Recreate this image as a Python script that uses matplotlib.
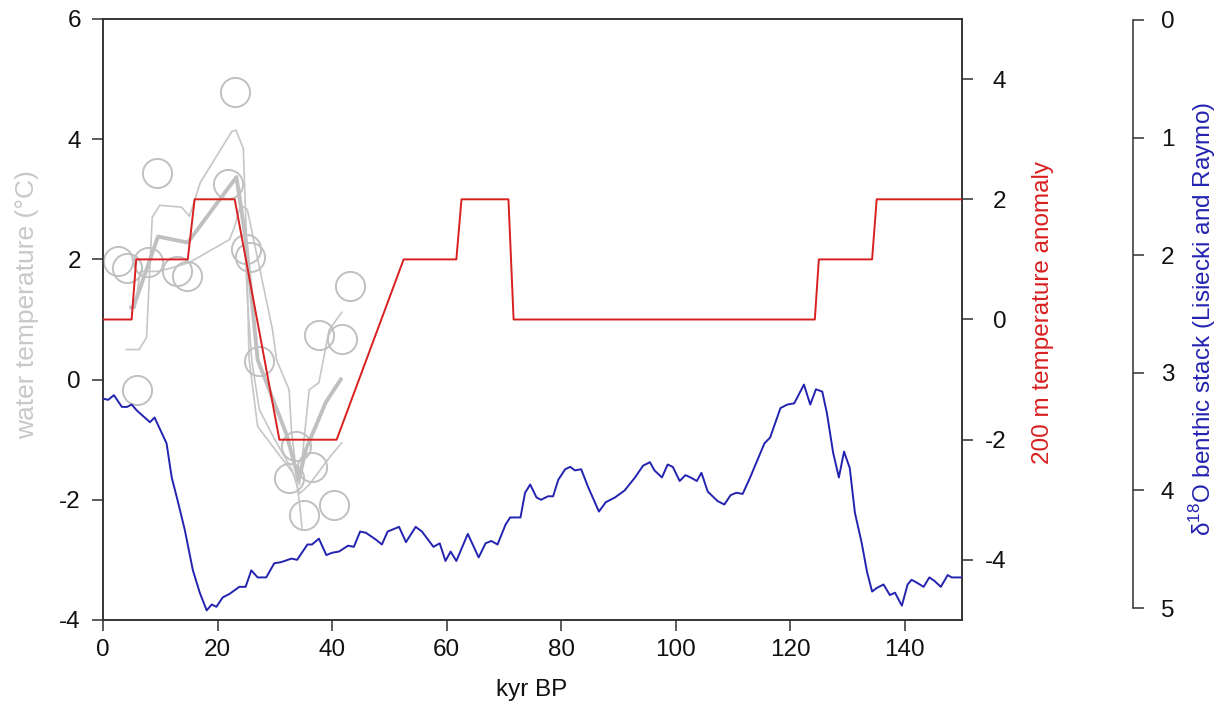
import matplotlib
matplotlib.use("Agg")
import matplotlib.pyplot as plt

plt.rcParams['font.family'] = ['Liberation Sans', 'DejaVu Sans']
plt.rcParams['mathtext.fontset'] = 'custom'
plt.rcParams['mathtext.rm'] = 'Liberation Sans'
plt.rcParams['axes.unicode_minus'] = False

# ---------------- data ----------------
# gray proxy records: individual circles (kyr BP, water temperature degC)
circle_kyr = [2.6, 4.2, 6.0, 7.8, 9.4, 12.9, 14.6, 21.9, 23.1, 24.9, 25.7, 27.3,
              32.5, 33.7, 35.1, 36.5, 37.7, 40.3, 41.7, 43.1]
circle_temp = [1.97, 1.86, -0.18, 1.95, 3.44, 1.81, 1.72, 3.25, 4.78, 2.17, 2.04, 0.31,
               -1.63, -1.11, -2.25, -1.45, 0.74, -2.08, 0.67, 1.55]

# thin gray record lines
lineA_kyr = [4.1, 6.3, 7.6, 8.6, 9.9, 13.7, 15.1, 17.0, 22.5, 23.2, 24.5, 25.0, 25.5, 27.0, 33.7, 34.3, 34.8]
lineA_temp = [0.5, 0.5, 0.7, 2.7, 2.9, 2.87, 2.72, 3.28, 4.13, 4.15, 3.85, 2.5, 0.35, -0.78, -1.62, -2.05, -2.5]
lineB_kyr = [5.6, 6.5, 9.6, 12.8, 15.1, 22.1, 23.0, 24.0, 25.2, 29.6, 30.3, 32.5, 32.9, 33.7, 34.3,
             36.0, 37.7, 39.5, 41.7]
lineB_temp = [1.2, 1.8, 1.8, 1.88, 1.95, 2.33, 2.55, 2.9, 2.83, 0.83, 0.33, -0.17, -0.83, -1.5, -1.75,
              -0.17, -0.05, 0.83, 1.12]
lineC_kyr = [23.8, 24.6, 25.3, 26.0, 27.3, 30.0, 33.0, 34.3, 36.0, 39.5, 41.7]
lineC_temp = [3.2, 2.6, 1.2, 0.3, -0.5, -1.0, -1.5, -1.9, -1.75, -1.3, -1.05]

# thick gray mean line
mean_kyr = [4.6, 5.3, 9.6, 14.8, 23.3, 25.0, 27.0, 32.0, 34.2, 35.4, 38.9, 41.7]
mean_temp = [1.2, 1.2, 2.38, 2.28, 3.37, 2.28, 0.33, -0.9, -1.67, -1.17, -0.38, 0.03]

# red: 200 m temperature anomaly
anom_kyr = [0, 5.0, 5.8, 14.8, 16.0, 23.0, 30.8, 40.8, 52.5, 61.7, 62.6, 70.8, 71.7,
            124.3, 125.0, 134.3, 135.1, 150]
anom_val = [0, 0, 1, 1, 2, 2, -2, -2, 1, 1, 2, 2, 0, 0, 1, 1, 2, 2]

# blue: d18O benthic stack (Lisiecki and Raymo)
lr_kyr = [0.0, 0.9, 1.9, 3.3, 4.2, 5.0, 5.9, 8.2, 9.0, 11.1,
          12.0, 13.0, 14.3, 15.7, 16.9, 18.1, 19.0, 19.8, 20.9, 22.1,
          23.8, 24.9, 25.9, 27.0, 28.5, 29.9, 31.1, 32.9, 33.9, 35.7,
          36.5, 37.7, 39.0, 40.0, 41.2, 42.8, 43.8, 44.9, 45.9, 47.7,
          48.7, 49.7, 51.7, 52.9, 54.6, 55.7, 57.7, 58.8, 59.8, 60.7,
          61.7, 63.7, 65.6, 66.8, 67.8, 68.9, 70.3, 71.1, 72.9, 73.7,
          74.6, 75.7, 76.5, 77.7, 78.6, 79.5, 80.7, 81.6, 82.4, 83.5,
          84.7, 86.6, 87.8, 89.4, 91.1, 92.9, 94.3, 95.5, 96.3, 97.6,
          98.6, 99.5, 100.7, 101.7, 102.6, 103.7, 104.5, 105.6, 107.3, 108.5,
          109.6, 110.6, 111.7, 113.0, 115.5, 116.5, 118.3, 119.5, 120.7, 122.4,
          123.5, 124.5, 125.6, 126.4, 127.5, 128.5, 129.4, 130.4, 131.3, 132.5,
          133.4, 134.3, 135.1, 136.3, 137.4, 138.3, 139.5, 140.5, 141.2, 142.3,
          143.3, 144.3, 145.2, 146.3, 147.5, 148.2, 150.0]
lr_d18o = [3.22, 3.23, 3.19, 3.29, 3.29, 3.27, 3.32, 3.42, 3.38, 3.60,
           3.89, 4.08, 4.34, 4.68, 4.87, 5.02, 4.97, 4.99, 4.91, 4.88,
           4.82, 4.82, 4.68, 4.74, 4.74, 4.62, 4.61, 4.58, 4.59, 4.46,
           4.46, 4.41, 4.55, 4.53, 4.52, 4.47, 4.48, 4.35, 4.36, 4.42,
           4.46, 4.35, 4.31, 4.44, 4.31, 4.35, 4.48, 4.45, 4.60, 4.52,
           4.60, 4.37, 4.57, 4.45, 4.43, 4.46, 4.29, 4.23, 4.23, 4.02,
           3.95, 4.06, 4.08, 4.05, 4.05, 3.91, 3.82, 3.80, 3.83, 3.82,
           3.97, 4.18, 4.10, 4.06, 4.00, 3.89, 3.79, 3.76, 3.83, 3.89,
           3.78, 3.80, 3.92, 3.87, 3.89, 3.92, 3.85, 4.01, 4.09, 4.12,
           4.04, 4.02, 4.03, 3.89, 3.60, 3.55, 3.30, 3.27, 3.26, 3.10,
           3.27, 3.14, 3.16, 3.34, 3.68, 3.89, 3.67, 3.81, 4.19, 4.45,
           4.69, 4.86, 4.83, 4.80, 4.89, 4.87, 4.98, 4.80, 4.76, 4.79,
           4.82, 4.74, 4.77, 4.82, 4.72, 4.74, 4.74]

x_ticks = [0, 20, 40, 60, 80, 100, 120, 140]
temp_ticks = [-4, -2, 0, 2, 4, 6]
anom_ticks = [-4, -2, 0, 2, 4]
d18o_ticks = [0, 1, 2, 3, 4, 5]

# ---------------- figure ----------------
W, H = 1226, 723
fig = plt.figure(figsize=(W / 100, H / 100), dpi=100)
L, R, T, B = 103, 962, 19, 620
ax = fig.add_axes([L / W, 1 - B / H, (R - L) / W, (B - T) / H])

FS = 17.5
spine_col = '#303030'
gray_line = '#c6c6c6'
gray_circ = '#c0c0c0'
red = '#d82020'
blue = '#2323b0'

# gray records
ax.plot(lineA_kyr, lineA_temp, color=gray_line, lw=1.2, zorder=2)
ax.plot(lineB_kyr, lineB_temp, color=gray_line, lw=1.2, zorder=2)
ax.plot(lineC_kyr, lineC_temp, color=gray_line, lw=1.2, zorder=2)
ax.plot(mean_kyr, mean_temp, color=gray_circ, lw=2.8, zorder=2, solid_capstyle='butt')
ax.plot(circle_kyr, circle_temp, ls='none', marker='o', ms=21, mfc='none',
        mec=gray_circ, mew=1.4, zorder=3)

ax.set_xlim(0, 150)
ax.set_ylim(-4, 6)
ax.set_xticks(x_ticks)
ax.set_yticks(temp_ticks)
ax.tick_params(axis='both', direction='out', length=8, width=1.1, color=spine_col,
               labelsize=FS, labelcolor='#111111')
ax.tick_params(axis='y', pad=8)
ax.tick_params(axis='x', pad=6)
for s in ax.spines.values():
    s.set_color(spine_col)
    s.set_linewidth(1.1)

# red axis
ax2 = ax.twinx()
ax2.plot(anom_kyr, anom_val, color=red, lw=1.4, zorder=4)
ax2.set_ylim(-5, 5)
ax2.set_yticks(anom_ticks)
ax2.set_xlim(0, 150)
ax2.tick_params(axis='y', direction='out', length=8, width=1.1, color=spine_col,
                labelsize=FS, labelcolor='#111111', pad=24)
for lbl in ax2.get_yticklabels():
    lbl.set_horizontalalignment('right')
for s in ax2.spines.values():
    s.set_color(spine_col)
    s.set_linewidth(1.1)

# blue axis (offset)
ax3 = ax.twinx()
ax3.plot(lr_kyr, lr_d18o, color=blue, lw=1.4, zorder=5)
ax3.set_ylim(5.102, -0.0085)
ax3.set_xlim(0, 150)
ax3.set_yticks(d18o_ticks)
ax3.spines['right'].set_position(('axes', (1133 - L) / (R - L)))
ax3.spines['right'].set_bounds(0, 5)
for k in ['left', 'top', 'bottom']:
    ax3.spines[k].set_visible(False)
ax3.spines['right'].set_color(spine_col)
ax3.spines['right'].set_linewidth(1.1)
ax3.tick_params(axis='y', direction='out', length=8, width=1.1, color=spine_col,
                labelsize=FS, labelcolor='#111111', pad=12)

# axis labels
fig.text(27 / W, 1 - 305 / H, 'water temperature (°C)', rotation=90, color='#c8c8c8',
         ha='center', va='center', fontsize=19)
fig.text(1043 / W, 1 - 312 / H, '200 m temperature anomaly', rotation=90, color=red,
         ha='center', va='center', fontsize=FS)
fig.text(1203 / W, 1 - 319 / H, 'δ$^{18}$O benthic stack (Lisiecki and Raymo)', rotation=90,
         color=blue, ha='center', va='center', fontsize=FS)
fig.text(532 / W, 1 - 690 / H, 'kyr BP', color='#111111', ha='center', va='center',
         fontsize=FS)

fig.savefig('out.png', dpi=100, facecolor='white')
